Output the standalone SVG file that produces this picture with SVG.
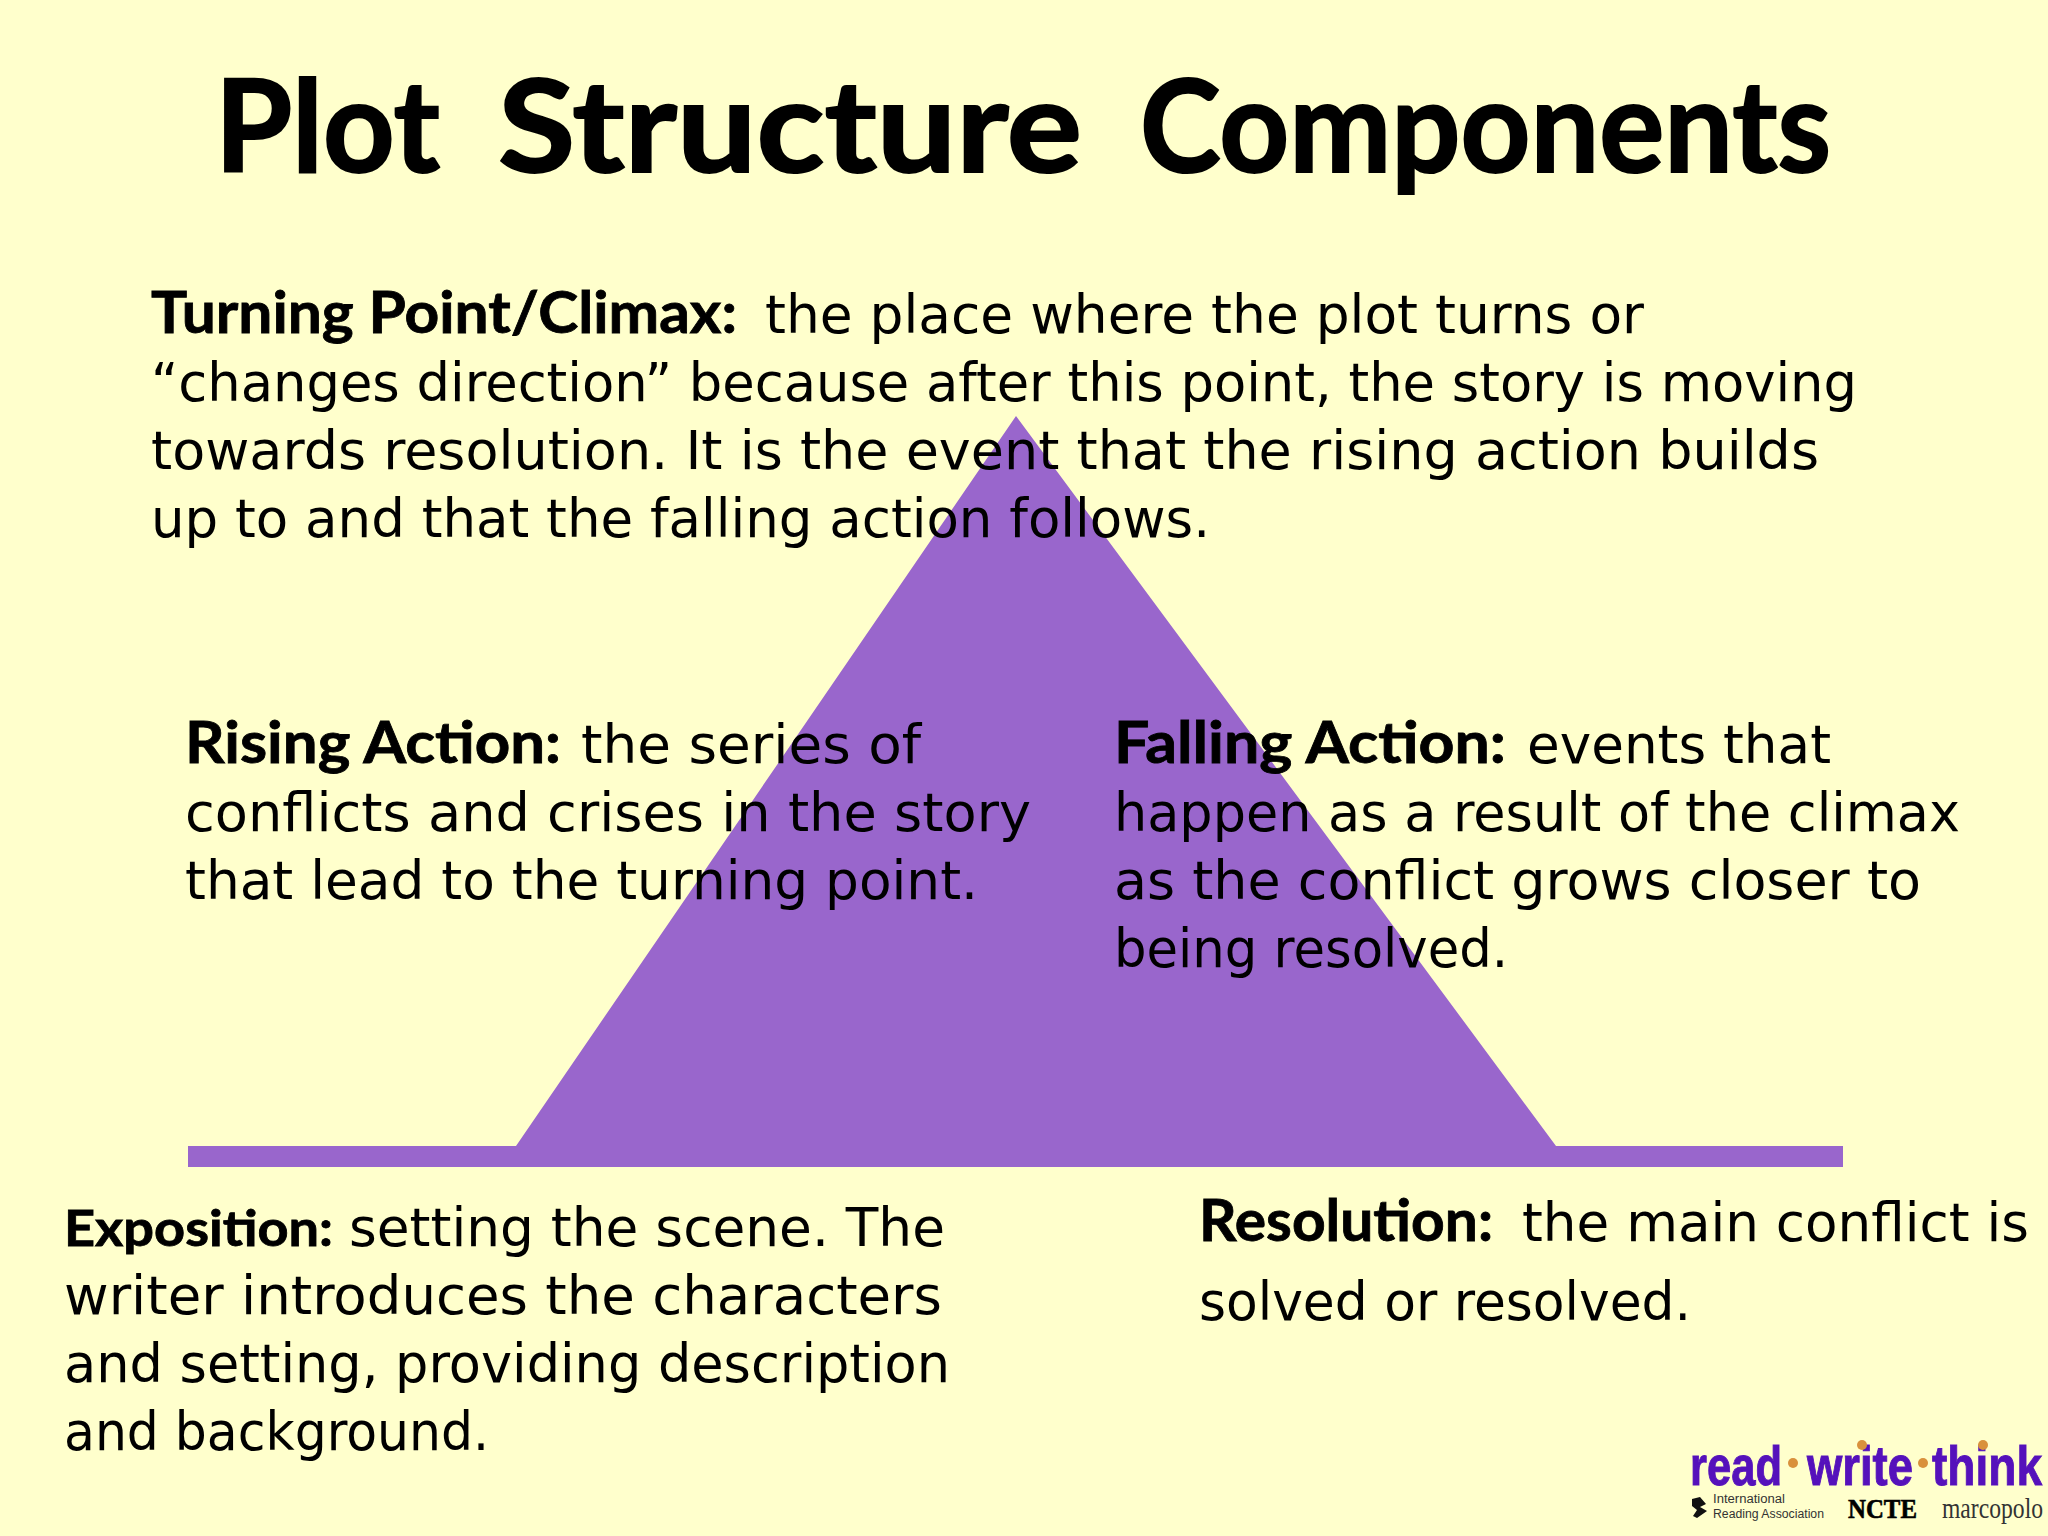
<svg xmlns="http://www.w3.org/2000/svg" width="2048" height="1536" viewBox="0 0 2048 1536">
<style>
text{font-family:"DejaVu Sans",sans-serif;fill:#000;font-size:54px}
.b{font-family:"Lato","Open Sans",sans-serif;font-weight:bold;font-size:57px;stroke:#000;stroke-width:.8px}
.t{font-family:"Lato","Open Sans",sans-serif;font-weight:bold;font-size:128px;stroke:#000;stroke-width:2px}
.l{font-family:"Liberation Sans Narrow","Liberation Sans",sans-serif;font-weight:bold;font-size:56px;fill:#5511bb;stroke:#5511bb;stroke-width:1px}
.s{font-family:"Liberation Sans",sans-serif;font-size:12.5px;fill:#333}
.d{fill:#d9913c}
</style>
<rect width="2048" height="1536" fill="#ffffcc"/>
<path id="plot" d="M188 1146H516L1016 416L1556 1146H1843V1167H188Z" fill="#9966cc"/>
<g id="title">
<text class="t" x="215" y="172" textLength="225" lengthAdjust="spacingAndGlyphs">Plot</text>
<text class="t" x="498" y="172" textLength="584" lengthAdjust="spacingAndGlyphs">Structure</text>
<text class="t" x="1140" y="172" textLength="691" lengthAdjust="spacingAndGlyphs">Components</text>
</g>
<g id="climax">
<text class="b" x="151" y="333" textLength="586" lengthAdjust="spacingAndGlyphs">Turning Point/Climax:</text>
<text x="765" y="333" textLength="879" lengthAdjust="spacingAndGlyphs">the place where the plot turns or</text>
<text x="151" y="401" textLength="1706" lengthAdjust="spacingAndGlyphs">“changes direction” because after this point, the story is moving</text>
<text x="151" y="469" textLength="1668" lengthAdjust="spacingAndGlyphs">towards resolution. It is the event that the rising action builds</text>
<text x="151" y="537" textLength="1059" lengthAdjust="spacingAndGlyphs">up to and that the falling action follows.</text>
</g>
<g id="rising">
<text class="b" x="185" y="763" textLength="376" lengthAdjust="spacingAndGlyphs">Rising Action:</text>
<text x="581" y="763" textLength="340" lengthAdjust="spacingAndGlyphs">the series of</text>
<text x="185" y="831" textLength="846" lengthAdjust="spacingAndGlyphs">conflicts and crises in the story</text>
<text x="185" y="899" textLength="793" lengthAdjust="spacingAndGlyphs">that lead to the turning point.</text>
</g>
<g id="falling">
<text class="b" x="1114" y="763" textLength="392" lengthAdjust="spacingAndGlyphs">Falling Action:</text>
<text x="1527" y="763" textLength="304" lengthAdjust="spacingAndGlyphs">events that</text>
<text x="1114" y="831" textLength="846" lengthAdjust="spacingAndGlyphs">happen as a result of the climax</text>
<text x="1114" y="899" textLength="807" lengthAdjust="spacingAndGlyphs">as the conflict grows closer to</text>
<text x="1114" y="967" textLength="394" lengthAdjust="spacingAndGlyphs">being resolved.</text>
</g>
<g id="exposition">
<text class="b" x="64" y="1246" textLength="269" lengthAdjust="spacingAndGlyphs" style="font-size:50px">Exposition:</text>
<text x="349" y="1246" textLength="596" lengthAdjust="spacingAndGlyphs">setting the scene. The</text>
<text x="64" y="1314" textLength="878" lengthAdjust="spacingAndGlyphs">writer introduces the characters</text>
<text x="64" y="1382" textLength="886" lengthAdjust="spacingAndGlyphs">and setting, providing description</text>
<text x="64" y="1450" textLength="425" lengthAdjust="spacingAndGlyphs">and background.</text>
</g>
<g id="resolution">
<text class="b" x="1199" y="1241" textLength="294" lengthAdjust="spacingAndGlyphs">Resolution:</text>
<text x="1522" y="1241" textLength="507" lengthAdjust="spacingAndGlyphs">the main conflict is</text>
<text x="1199" y="1320" textLength="492" lengthAdjust="spacingAndGlyphs">solved or resolved.</text>
</g>
<g id="logo">
<text class="l" x="1690" y="1485" textLength="92" lengthAdjust="spacingAndGlyphs">read</text>
<circle class="d" cx="1793" cy="1463" r="5"/>
<text class="l" x="1807" y="1485" textLength="106" lengthAdjust="spacingAndGlyphs">write</text>
<circle class="d" cx="1923" cy="1463" r="5"/>
<text class="l" x="1932" y="1485" textLength="110" lengthAdjust="spacingAndGlyphs">think</text>
<circle class="d" cx="1862" cy="1445" r="5"/>
<circle class="d" cx="1983" cy="1445" r="5"/>
<path d="M1692 1499l8-2 6 7-6 3 7 4-10 7-4-2 4-6-5-4z" fill="#111"/>
<text class="s" x="1713" y="1503" textLength="72" lengthAdjust="spacingAndGlyphs">International</text>
<text class="s" x="1713" y="1518" textLength="111" lengthAdjust="spacingAndGlyphs">Reading Association</text>
<text x="1848" y="1518" textLength="69" lengthAdjust="spacingAndGlyphs" style="font-family:'Liberation Serif',serif;font-weight:bold;font-size:27px;stroke:#000;stroke-width:.6px">NCTE</text>
<text x="1942" y="1518" textLength="101" lengthAdjust="spacingAndGlyphs" style="font-family:'Liberation Serif',serif;font-size:29px;fill:#333">marcopolo</text>
</g>
</svg>
